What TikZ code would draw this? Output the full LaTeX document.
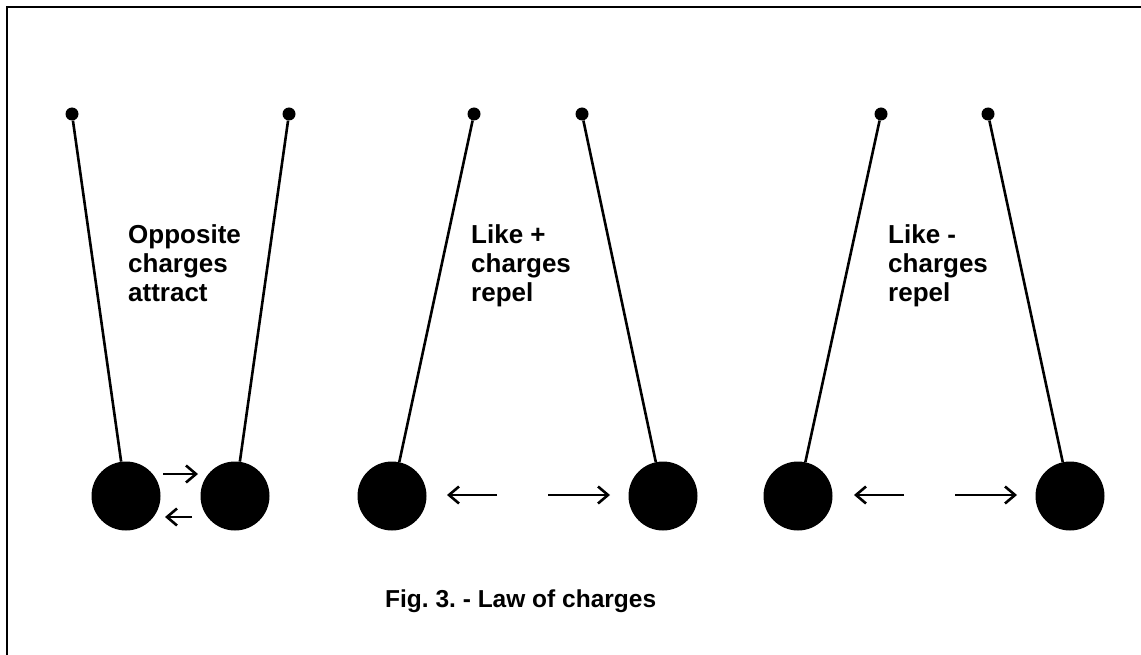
\documentclass[tikz,border=0pt]{standalone}
\usepackage{fontspec}
\setmainfont{Liberation Sans}
\usetikzlibrary{arrows.meta}
\frenchspacing

\begin{document}
\begin{tikzpicture}[x=1pt,y=-1pt,
        pivot/.style={circle,fill=black,inner sep=0pt,minimum size=13pt},
        ball/.style={circle,fill=black,inner sep=0pt,minimum size=69pt},
        thread/.style={line width=2.6pt},
        push/.style={line width=2.6pt,-{Straight Barb[length=10pt,width=17pt]}},
        lbl/.style={anchor=north west,inner sep=0pt,align=left,
            font=\bfseries\fontsize{26}{29}\selectfont}]
        \useasboundingbox (0,0) rectangle (1141,655);
        \draw[line width=1.5pt] (7,655) -- (7,7) -- (1141,7);
        % pendulums
        \foreach \n/\px/\bx in {1/72/126,2/289/235,3/474/392,4/582/663,5/881/798,6/988/1070} {
            \node[pivot] (p\n) at (\px,114) {};
            \node[ball] (b\n) at (\bx,496) {};
            \draw[thread] (p\n) -- (b\n);
        }
        % forces
        \coordinate (a1s) at (163,474); \coordinate (a1e) at (198,474);
        \coordinate (a2s) at (192,517); \coordinate (a2e) at (165,517);
        \coordinate (a3s) at (497,495); \coordinate (a3e) at (447,495);
        \coordinate (a4s) at (548,495); \coordinate (a4e) at (610,495);
        \coordinate (a5s) at (904,495); \coordinate (a5e) at (854,495);
        \coordinate (a6s) at (955,495); \coordinate (a6e) at (1017,495);
        \foreach \n in {1,...,6}
            \draw[push] (a\n s) -- (a\n e);
        % labels
        \node[lbl] (t1) at (128,224) {Opposite\\charges\\attract};
        \node[lbl] (t2) at (471,224) {Like +\\charges\\repel};
        \node[lbl] (t3) at (888,224) {Like -\\charges\\repel};
        \node[anchor=base west,inner sep=0pt,font=\bfseries\fontsize{24.5}{29}\selectfont]
            (cap) at (385,607) {Fig. 3. - Law of charges};
\end{tikzpicture}
\end{document}
